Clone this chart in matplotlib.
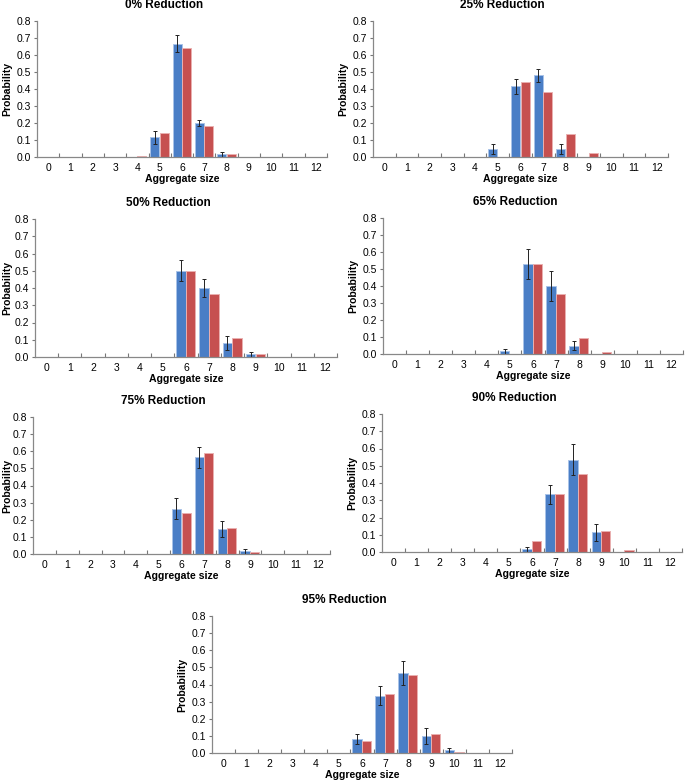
import matplotlib
matplotlib.use("Agg")
import matplotlib.pyplot as plt
import numpy as np

plt.rcParams['font.family'] = ['Liberation Sans', 'DejaVu Sans']

# datos
sizes = list(range(13))
titles = ["0% Reduction", "25% Reduction", "50% Reduction", "65% Reduction",
          "75% Reduction", "90% Reduction", "95% Reduction"]

# observado (azul) con barras de error, modelo (rojo)
obs_0 = {5: 0.115, 6: 0.665, 7: 0.20, 8: 0.015}
err_0 = {5: 0.04, 6: 0.05, 7: 0.015, 8: 0.015}
mod_0 = {4: 0.005, 5: 0.14, 6: 0.64, 7: 0.18, 8: 0.02}

obs_25 = {5: 0.045, 6: 0.415, 7: 0.48, 8: 0.045}
err_25 = {5: 0.03, 6: 0.045, 7: 0.04, 8: 0.03}
mod_25 = {6: 0.44, 7: 0.385, 8: 0.135, 9: 0.025}

obs_50 = {6: 0.50, 7: 0.40, 8: 0.08, 9: 0.015}
err_50 = {6: 0.06, 7: 0.055, 8: 0.04, 9: 0.015}
mod_50 = {6: 0.50, 7: 0.365, 8: 0.11, 9: 0.015}

obs_65 = {5: 0.015, 6: 0.53, 7: 0.40, 8: 0.05}
err_65 = {5: 0.015, 6: 0.09, 7: 0.09, 8: 0.025}
mod_65 = {6: 0.53, 7: 0.355, 8: 0.095, 9: 0.01}

obs_75 = {6: 0.265, 7: 0.565, 8: 0.145, 9: 0.015}
err_75 = {6: 0.06, 7: 0.06, 8: 0.045, 9: 0.015}
mod_75 = {6: 0.24, 7: 0.59, 8: 0.15, 9: 0.01}

obs_90 = {6: 0.015, 7: 0.335, 8: 0.535, 9: 0.115}
err_90 = {6: 0.015, 7: 0.055, 8: 0.09, 9: 0.05}
mod_90 = {6: 0.065, 7: 0.335, 8: 0.455, 9: 0.12, 10: 0.01}

obs_95 = {6: 0.08, 7: 0.335, 8: 0.465, 9: 0.10, 10: 0.015}
err_95 = {6: 0.03, 7: 0.055, 8: 0.07, 9: 0.045, 10: 0.015}
mod_95 = {6: 0.07, 7: 0.345, 8: 0.455, 9: 0.11, 10: 0.008}

observed = [obs_0, obs_25, obs_50, obs_65, obs_75, obs_90, obs_95]
errors = [err_0, err_25, err_50, err_65, err_75, err_90, err_95]
model = [mod_0, mod_25, mod_50, mod_65, mod_75, mod_90, mod_95]

# posiciones de los ejes en pixeles (izq, arriba, der, abajo)
W, H = 685, 781
boxes = [(37, 21, 327, 157), (373, 21, 668, 157),
         (35, 219, 337, 357), (383, 218, 683, 354),
         (33, 417, 330, 554), (382, 414, 682, 552),
         (212, 616, 512, 753)]

azul = '#4a7ec6'
rojo = '#c65050'

fig = plt.figure(figsize=(W / 100, H / 100), dpi=100)

for i, (l, t, r, b) in enumerate(boxes):
    ax = fig.add_axes([l / W, 1 - b / H, (r - l) / W, (b - t) / H])
    x = np.array(sizes)
    o = np.array([observed[i].get(k, 0) for k in sizes])
    e = np.array([errors[i].get(k, 0) for k in sizes])
    m = np.array([model[i].get(k, 0) for k in sizes])
    ancho = 0.4
    ax.bar(x - ancho / 2 - 0.02, o, ancho, color=azul, edgecolor='#a9c3e8', linewidth=0.7)
    ax.bar(x + ancho / 2, m, ancho, color=rojo, edgecolor='#eab0b0', linewidth=0.7)
    mask = o > 0
    ax.errorbar(x[mask] - ancho / 2 - 0.02, o[mask], yerr=e[mask], fmt='none',
                ecolor='#222222', elinewidth=0.7, capsize=1.5, capthick=0.7)

    ax.set_xlim(-0.5, 12.5)
    ax.set_ylim(0, 0.8)
    ax.set_yticks(np.arange(0, 0.81, 0.1))
    ax.set_yticklabels([f"{v:.1f}" for v in np.arange(0, 0.81, 0.1)])
    ax.set_xticks(sizes)
    ax.set_xticks(np.arange(0.5, 12.6, 1), minor=True)
    ax.tick_params(axis='x', which='major', length=0, labelsize=7.5, pad=4)
    ax.tick_params(axis='x', which='minor', direction='in', length=3, width=0.8, color='#777777')
    ax.tick_params(axis='y', direction='out', length=2.5, width=0.8, color='#777777', labelsize=7.5, pad=1.5)
    for s in ['top', 'right']:
        ax.spines[s].set_visible(False)
    for s in ['left', 'bottom']:
        ax.spines[s].set_color('#888888')
        ax.spines[s].set_linewidth(0.9)

    # etiqueta y: borde derecho a 25 px del eje, sin salirse de la figura
    borde = max(l - 25, 12)
    ax.set_ylabel("Probability", fontsize=7.5, fontweight='bold')
    ax.yaxis.set_label_coords((borde - l) / (r - l), 0.5)
    ax.set_xlabel("Aggregate size", fontsize=7.6, fontweight='bold')
    ax.xaxis.set_label_coords(0.5, -17 / (b - t))

    fig.text((l + r) / 2 / W - 18 / W, 1 - (t - 16) / H, titles[i],
             ha='center', va='center', fontsize=8.5, fontweight='bold')

fig.savefig("out.png", dpi=100)
